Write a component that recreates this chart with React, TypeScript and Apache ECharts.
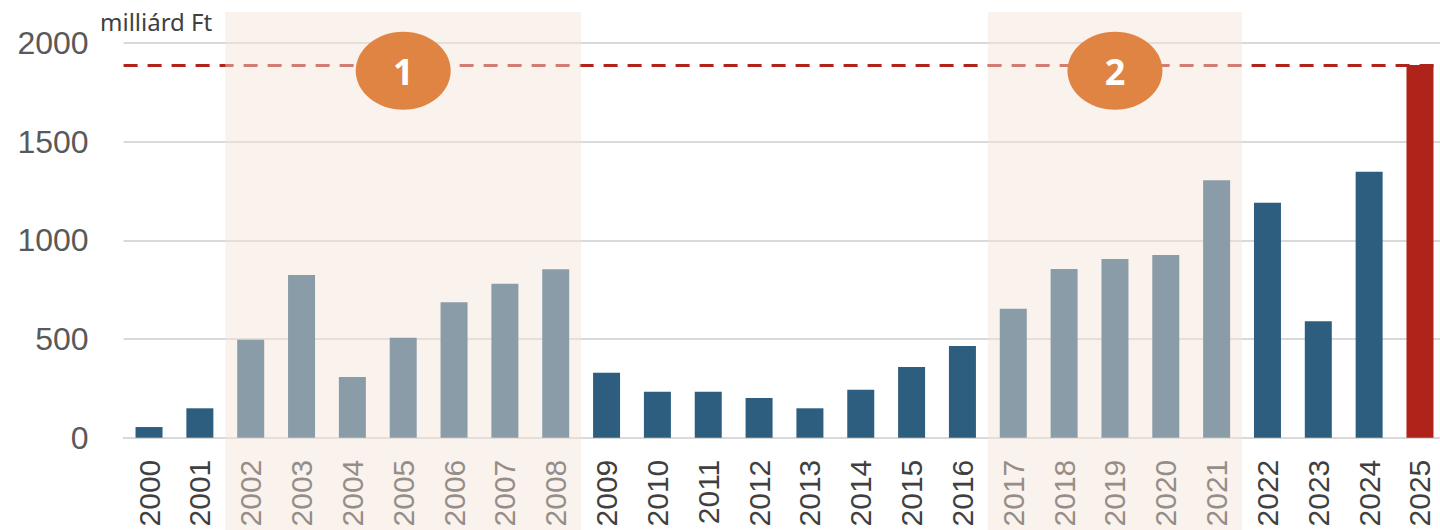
import React, { useEffect, useRef } from "react";
import * as echarts from "echarts";

const years = [
  "2000", "2001", "2002", "2003", "2004", "2005", "2006", "2007", "2008", "2009",
  "2010", "2011", "2012", "2013", "2014", "2015", "2016", "2017", "2018", "2019",
  "2020", "2021", "2022", "2023", "2024", "2025",
];
const values = [
  54, 149, 496, 824, 307, 506, 686, 780, 853, 329,
  233, 233, 201, 149, 243, 358, 465, 653, 855, 905,
  926, 1305, 1190, 590, 1348, 1888,
];
const highlightYear = "2025";
const referenceLevel = 1885;
// periods as [first category index, last category index]
const periods = [
  [2, 8],
  [17, 21],
];
const periodLabels = ["1", "2"];
const yTicks = { min: 0, max: 2000, interval: 500 };
const unitLabel = "milliárd Ft";

const BLUE = "#2e5e7f";
const RED = "#b0231a";
const ORANGE = "#e08444";

export default function App() {
  const ref = useRef<HTMLDivElement>(null);
  useEffect(() => {
    if (!ref.current) return;
    const chart = echarts.init(ref.current, null, { renderer: "svg" });
    const barData = values.map((v, i) =>
      years[i] === highlightYear ? { value: v, itemStyle: { color: RED } } : v
    );
    chart.setOption({
      animation: false,
      grid: { left: 123.6, right: 0.6, top: 43, bottom: 92.3, containLabel: false },
      graphic: [
        {
          type: "text",
          left: 100,
          top: 9,
          style: {
            text: unitLabel,
            fill: "#404040",
            font: '24px "Noto Sans"',
          },
        },
      ],
      xAxis: {
        type: "category",
        data: years,
        axisLine: { show: true, lineStyle: { color: "#d9d9d9", width: 2 } },
        axisTick: { show: false },
        axisLabel: {
          rotate: 90,
          margin: 22,
          color: "#404040",
          fontSize: 30,
          fontFamily: '"Liberation Sans", Arial, sans-serif',
          interval: 0,
        },
      },
      yAxis: {
        type: "value",
        min: yTicks.min,
        max: yTicks.max,
        interval: yTicks.interval,
        axisLine: { show: false },
        axisTick: { show: false },
        splitLine: { lineStyle: { color: "#d9d9d9", width: 2 } },
        axisLabel: {
          margin: 35,
          color: "#595959",
          fontSize: 32,
          fontFamily: '"Liberation Sans", Arial, sans-serif',
          formatter: (v: number) => String(v),
        },
      },
      series: [
        {
          type: "bar",
          data: barData,
          barWidth: 27,
          itemStyle: { color: BLUE },
          z: 2,
          markLine: {
            silent: true,
            symbol: "none",
            label: { show: false },
            z: 1,
            lineStyle: { color: RED, width: 3, type: [14, 10] },
            data: [{ yAxis: referenceLevel }],
          },
        },
        {
          type: "custom",
          z: 10,
          silent: true,
          clip: false,
          data: periods,
          renderItem: (params: any, api: any) => {
            const s = api.value(0);
            const e = api.value(1);
            const band = api.size([1, 0])[0];
            const p0 = api.coord([s, 0]);
            const p1 = api.coord([e, 0]);
            const x0 = p0[0] - band / 2;
            const x1 = p1[0] + band / 2;
            const cs = params.coordSys;
            const top = cs.y - 31;
            const bottom = cs.y + cs.height + 120;
            const cy = api.coord([s, referenceLevel])[1] + 5;
            const cx = (x0 + x1) / 2;
            return {
              type: "group",
              children: [
                {
                  type: "rect",
                  shape: { x: x0, y: top, width: x1 - x0, height: bottom - top },
                  style: { fill: "rgba(244,227,216,0.47)" },
                },
                {
                  type: "ellipse",
                  shape: { cx, cy, rx: 47.5, ry: 39 },
                  style: { fill: ORANGE },
                },
                {
                  type: "text",
                  x: cx,
                  y: cy + 1,
                  style: {
                    text: periodLabels[params.dataIndex],
                    fill: "#ffffff",
                    font: 'bold 36px "Open Sans", sans-serif',
                    align: "center",
                    verticalAlign: "middle",
                  },
                },
              ],
            };
          },
        },
      ],
    });
    return () => chart.dispose();
  }, []);
  return (
    <div
      ref={ref}
      style={{ position: "fixed", left: 0, top: 0, width: 1446, height: 530, background: "#fff" }}
    />
  );
}
